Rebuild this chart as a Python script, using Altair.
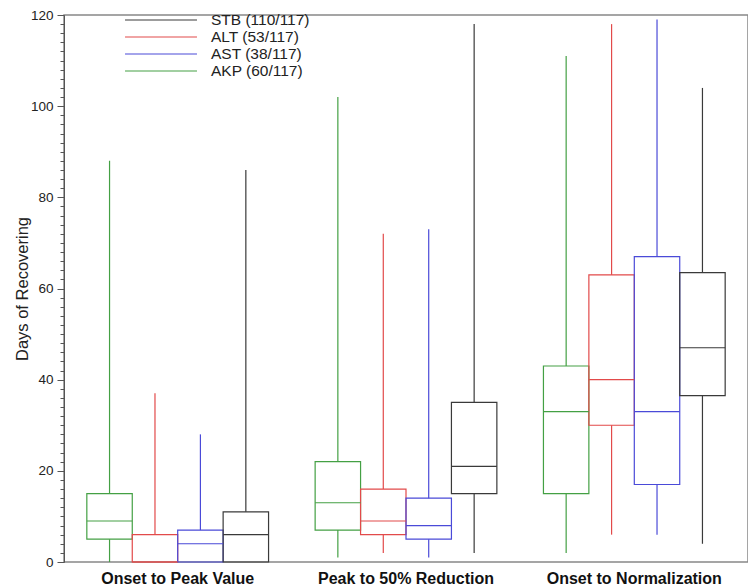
import altair as alt
import pandas as pd

groups = ["Onset to Peak Value", "Peak to 50% Reduction", "Onset to Normalization"]
series_order = ["AKP (60/117)", "ALT (53/117)", "AST (38/117)", "STB (110/117)"]
legend_order = ["STB (110/117)", "ALT (53/117)", "AST (38/117)", "AKP (60/117)"]
legend_colors = ["#3a3a3a", "#e24a4a", "#4a4ad8", "#44a044"]

# per series, one value per group
akp_min = [0, 1, 2]
akp_q1 = [5, 7, 15]
akp_med = [9, 13, 33]
akp_q3 = [15, 22, 43]
akp_max = [88, 102, 111]

alt_min = [0, 2, 6]
alt_q1 = [0, 6, 30]
alt_med = [0, 9, 40]
alt_q3 = [6, 16, 63]
alt_max = [37, 72, 118]

ast_min = [0, 1, 6]
ast_q1 = [0, 5, 17]
ast_med = [4, 8, 33]
ast_q3 = [7, 14, 67]
ast_max = [28, 73, 119]

stb_min = [0, 2, 4]
stb_q1 = [0, 15, 36.5]
stb_med = [6, 21, 47]
stb_q3 = [11, 35, 63.5]
stb_max = [86, 118, 104]

stats = {
    "AKP (60/117)": (akp_min, akp_q1, akp_med, akp_q3, akp_max),
    "ALT (53/117)": (alt_min, alt_q1, alt_med, alt_q3, alt_max),
    "AST (38/117)": (ast_min, ast_q1, ast_med, ast_q3, ast_max),
    "STB (110/117)": (stb_min, stb_q1, stb_med, stb_q3, stb_max),
}

rows = []
for s, (mn, q1, md, q3, mx) in stats.items():
    for i, g in enumerate(groups):
        rows.append({"group": g, "series": s, "lo": mn[i], "q1": q1[i],
                     "med": md[i], "q3": q3[i], "hi": mx[i]})
df = pd.DataFrame(rows)

FONT = "Liberation Sans"
yscale = alt.Scale(domain=[0, 120], nice=False, zero=True)
yaxis = alt.Axis(
    values=list(range(0, 121, 2)),
    labelExpr="datum.value % 20 == 0 ? datum.label : ''",
    tickSize={"expr": "datum.value % 20 == 0 ? 7 : 4"},
    grid=False, domain=True, domainColor="#555", tickColor="#555",
    labelFontSize=13.5, labelColor="#222", labelPadding=4,
    titleFontSize=16.5, titleFontWeight="normal", titleColor="#222",
    titlePadding=0,
)


def Y(field):
    return alt.Y(field, type="quantitative", scale=yscale, axis=yaxis,
                 title="Days of Recovering")


def Y2(field):
    return alt.Y2(field)


base = alt.Chart(df).encode(
    x=alt.X("group:N", sort=groups, title=None,
            scale=alt.Scale(paddingInner=0.204, paddingOuter=0.1),
            axis=alt.Axis(labelAngle=0, ticks=False, domain=False,
                          labelFontSize=16, labelFontWeight="bold",
                          labelColor="#111", labelPadding=8)),
    xOffset=alt.XOffset("series:N", sort=series_order,
                        scale=alt.Scale(paddingInner=0, paddingOuter=0)),
    color=alt.Color("series:N",
                    scale=alt.Scale(domain=legend_order, range=legend_colors),
                    legend=alt.Legend(title=None, orient="none", legendX=89, legendY=-3,
                                      symbolType="M-5.14,0H5.14", symbolSize=196,
                                      symbolStrokeWidth=1.2, labelFontSize=15.5,
                                      labelFont=FONT, labelColor="#222",
                                      labelOffset=42, rowPadding=-0.5, padding=0)),
)

box = base.mark_rect(filled=False, strokeWidth=1.2).encode(y=Y("q1"), y2=Y2("q3"))
med = base.mark_rect(filled=False, strokeWidth=1.2).encode(y=Y("med"), y2=Y2("med"))
wlo = base.mark_rule(strokeWidth=1.2).encode(y=Y("lo"), y2=Y2("q1"))
whi = base.mark_rule(strokeWidth=1.2).encode(y=Y("q3"), y2=Y2("hi"))

chart = alt.layer(wlo, whi, box, med).properties(
    width=684, height=547,
    autosize=alt.AutoSizeParams(type="none"),
    padding={"left": 56, "top": 7, "right": 0, "bottom": 24},
).configure(font=FONT).configure_view(stroke="#888", strokeWidth=1.5)

chart.save("out.html", embed_options={"renderer": "svg", "actions": False})
